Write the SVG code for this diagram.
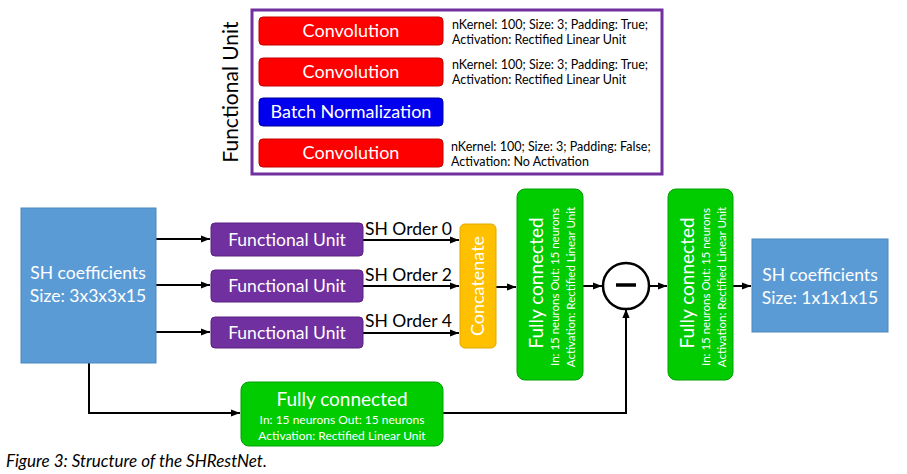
<svg xmlns="http://www.w3.org/2000/svg" width="907" height="474" viewBox="0 0 907 474">
<defs>
<marker id="ah" viewBox="0 0 10 10" refX="10" refY="5" markerWidth="4.5" markerHeight="4.5" orient="auto" markerUnits="strokeWidth">
<path d="M0,1 L10,5 L0,9 z" fill="#000"/>
</marker>
<style>
text{font-family:Lato,"Open Sans","Liberation Sans",sans-serif}
.w{fill:#fff}
.conv{fill:#ff0000;stroke:#c00000;stroke-width:1}
.bn{fill:#0000ee;stroke:#00009a;stroke-width:1}
.fu{fill:#7030a0;stroke:#5a2080;stroke-width:1}
.sh{fill:#5b9bd5;stroke:#4a88c0;stroke-width:1}
.fc{fill:#00cc00;stroke:#00a000;stroke-width:1}
.cat{fill:#ffc000;stroke:#e0a800;stroke-width:1}
.lbl{font-size:12.5px;fill:#000}
.ord{font-size:17.5px;fill:#000}
.ln{fill:none;stroke:#000;stroke-width:2}
.ar{fill:none;stroke:#000;stroke-width:2;marker-end:url(#ah)}
</style>
</defs>
<rect width="907" height="474" fill="#fff"/>

<g id="functional-unit-detail">
<rect x="252" y="10" width="410" height="164" fill="none" stroke="#7030a0" stroke-width="3"/>
<text x="238" y="92" font-size="21" text-anchor="middle" transform="rotate(-90 238 92)" fill="#000">Functional Unit</text>
</g>
<g id="conv1">
<rect class="conv" x="259" y="17" width="184" height="28" rx="4"/>
<text class="w" x="351" y="37" font-size="18" text-anchor="middle">Convolution</text>
<text class="lbl" x="452" y="29">nKernel: 100; Size: 3; Padding: True;</text>
<text class="lbl" x="452" y="44">Activation: Rectified Linear Unit</text>
</g>
<g id="conv2">
<rect class="conv" x="259" y="58" width="184" height="28" rx="4"/>
<text class="w" x="351" y="78" font-size="18" text-anchor="middle">Convolution</text>
<text class="lbl" x="452" y="69">nKernel: 100; Size: 3; Padding: True;</text>
<text class="lbl" x="452" y="84">Activation: Rectified Linear Unit</text>
</g>
<g id="batchnorm">
<rect class="bn" x="259" y="98" width="184" height="28" rx="4"/>
<text class="w" x="351" y="118" font-size="18" text-anchor="middle">Batch Normalization</text>
</g>
<g id="conv3">
<rect class="conv" x="259" y="139" width="184" height="28" rx="4"/>
<text class="w" x="351" y="159" font-size="18" text-anchor="middle">Convolution</text>
<text class="lbl" x="451" y="151">nKernel: 100; Size: 3; Padding: False;</text>
<text class="lbl" x="451" y="166">Activation: No Activation</text>
</g>

<g id="connectors">
<line class="ar" x1="156" y1="239" x2="210" y2="239"/>
<line class="ar" x1="156" y1="285" x2="210" y2="285"/>
<line class="ar" x1="156" y1="332" x2="210" y2="332"/>
<line class="ar" x1="363" y1="240" x2="459" y2="240"/>
<line class="ar" x1="363" y1="286" x2="459" y2="286"/>
<line class="ar" x1="363" y1="333" x2="459" y2="333"/>
<line class="ar" x1="496" y1="287" x2="516" y2="287"/>
<line class="ar" x1="583" y1="286" x2="602" y2="286"/>
<line class="ar" x1="649" y1="286" x2="667" y2="286"/>
<line class="ar" x1="733" y1="286" x2="751" y2="286"/>
<polyline class="ar" points="89,363 89,413 240,413"/>
<polyline class="ar" points="443,413 626,413 626,309"/>
<text class="ord" x="365" y="235">SH Order 0</text>
<text class="ord" x="365" y="281">SH Order 2</text>
<text class="ord" x="365" y="327">SH Order 4</text>
</g>

<g id="sh-in">
<rect class="sh" x="21" y="208" width="135" height="155"/>
<text class="w" x="88" y="279" font-size="17.5" text-anchor="middle">SH coefficients</text>
<text class="w" x="88" y="302" font-size="17.5" text-anchor="middle">Size: 3x3x3x15</text>
</g>
<g id="fu1">
<rect class="fu" x="211" y="223" width="152" height="33" rx="4"/>
<text class="w" x="287" y="246" font-size="17.5" text-anchor="middle">Functional Unit</text>
</g>
<g id="fu2">
<rect class="fu" x="211" y="270" width="152" height="32" rx="4"/>
<text class="w" x="287" y="292" font-size="17.5" text-anchor="middle">Functional Unit</text>
</g>
<g id="fu3">
<rect class="fu" x="211" y="317" width="152" height="31" rx="4"/>
<text class="w" x="287" y="339" font-size="17.5" text-anchor="middle">Functional Unit</text>
</g>
<g id="concat">
<rect class="cat" x="460" y="224" width="36" height="124" rx="5"/>
<text class="w" x="484" y="286" font-size="18" text-anchor="middle" transform="rotate(-90 484 286)">Concatenate</text>
</g>
<g id="fc1">
<rect class="fc" x="517" y="189" width="66" height="191" rx="8"/>
<text class="w" x="543" y="283" font-size="19" text-anchor="middle" transform="rotate(-90 543 283)">Fully connected</text>
<text class="w" x="559" y="287" font-size="11.5" text-anchor="middle" transform="rotate(-90 559 287)">In: 15 neurons Out: 15 neurons</text>
<text class="w" x="575" y="287" font-size="11.5" text-anchor="middle" transform="rotate(-90 575 287)">Activation: Rectified Linear Unit</text>
</g>
<g id="minus">
<circle cx="626" cy="286" r="23" fill="#fff" stroke="#000" stroke-width="2.5"/>
<line x1="616" y1="285" x2="636" y2="285" stroke="#000" stroke-width="3.5"/>
</g>
<g id="fc2">
<rect class="fc" x="668" y="189" width="65" height="191" rx="8"/>
<text class="w" x="694" y="283" font-size="19" text-anchor="middle" transform="rotate(-90 694 283)">Fully connected</text>
<text class="w" x="710" y="287" font-size="11.5" text-anchor="middle" transform="rotate(-90 710 287)">In: 15 neurons Out: 15 neurons</text>
<text class="w" x="726" y="287" font-size="11.5" text-anchor="middle" transform="rotate(-90 726 287)">Activation: Rectified Linear Unit</text>
</g>
<g id="sh-out">
<rect class="sh" x="752" y="239" width="136" height="93"/>
<text class="w" x="820" y="281" font-size="17.5" text-anchor="middle">SH coefficients</text>
<text class="w" x="820" y="304" font-size="17.5" text-anchor="middle">Size: 1x1x1x15</text>
</g>
<g id="fc3">
<rect class="fc" x="241" y="382" width="202" height="64" rx="8"/>
<text class="w" x="342" y="406" font-size="19" text-anchor="middle">Fully connected</text>
<text class="w" x="342" y="424" font-size="12" text-anchor="middle">In: 15 neurons Out: 15 neurons</text>
<text class="w" x="342" y="440" font-size="12" text-anchor="middle">Activation: Rectified Linear Unit</text>
</g>
<text x="6" y="467" font-size="17" font-style="italic" fill="#000">Figure 3: Structure of the SHRestNet.</text>
</svg>
